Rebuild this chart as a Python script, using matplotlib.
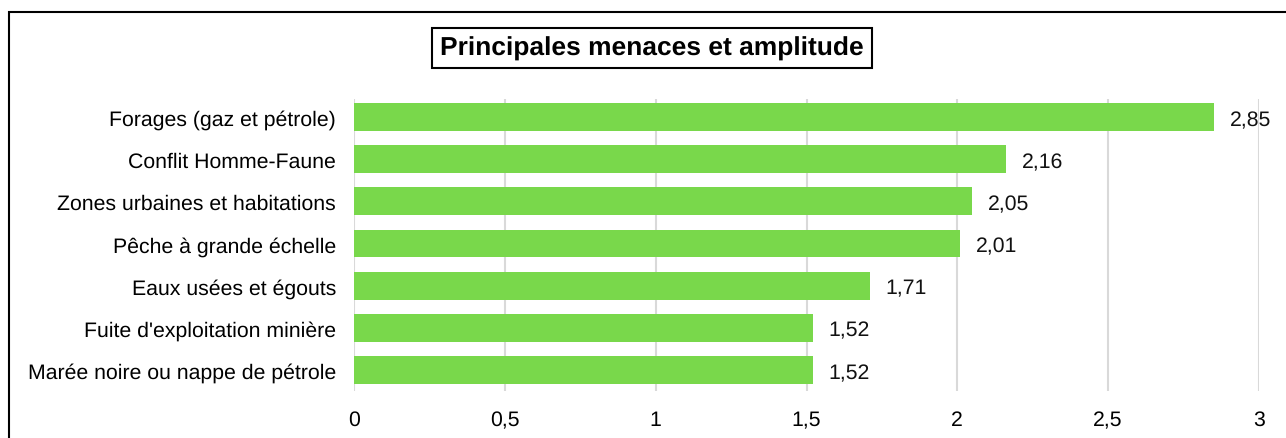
import matplotlib.pyplot as plt
from matplotlib.patches import Rectangle

plt.rcParams['font.family'] = 'Liberation Sans'
plt.rcParams['text.hinting'] = 'no_hinting'

categories = ['Forages (gaz et pétrole)', 'Conflit Homme-Faune',
              'Zones urbaines et habitations', 'Pêche à grande échelle',
              'Eaux usées et égouts', "Fuite d'exploitation minière",
              'Marée noire ou nappe de pétrole']
values = [2.85, 2.16, 2.05, 2.01, 1.71, 1.52, 1.52]
ticks = [0, 0.5, 1, 1.5, 2, 2.5, 3]
tick_labels = ['0', '0,5', '1', '1,5', '2', '2,5', '3']

fs = 15.3
fig = plt.figure(figsize=(12.86, 4.39), dpi=100)
ax = fig.add_axes([354/1286, 1 - 392/439, (1259 - 354)/1286, 292/439])

ypos = list(range(len(categories)))
ax.barh(ypos, values, height=0.66, color='#79D84B', zorder=3)
for y, v in zip(ypos, values):
    ax.text(v + 0.053, y + 0.06, f'{v:.2f}'.replace('.', ','), va='center', ha='left',
            fontsize=fs, color='#111111')

ax.set_xlim(0, 3)
ax.set_ylim(6.5, -0.43)
ax.set_yticks(ypos)
ax.set_yticklabels(categories, fontsize=fs, va='center_baseline')
ax.set_xticks(ticks)
ax.set_xticklabels(tick_labels, fontsize=fs, va='baseline')
ax.tick_params(axis='y', length=0, pad=13)
ax.tick_params(axis='x', length=0, pad=24.5)
ax.grid(axis='x', color='#D9D9D9', linewidth=1.5, zorder=0)
for s in ax.spines.values():
    s.set_visible(False)

fig.text(652/1286, 1 - 49/439, 'Principales menaces et amplitude', ha='center', va='center',
         fontsize=19, fontweight='bold',
         bbox=dict(boxstyle='square,pad=0.3', facecolor='white', edgecolor='black', linewidth=1.5))

fig.patches.append(Rectangle((9/1286, -0.1), 1.1, 1.1 - 13/439, transform=fig.transFigure,
                             fill=False, edgecolor='black', linewidth=1.5))

fig.savefig('out.png', dpi=100)
